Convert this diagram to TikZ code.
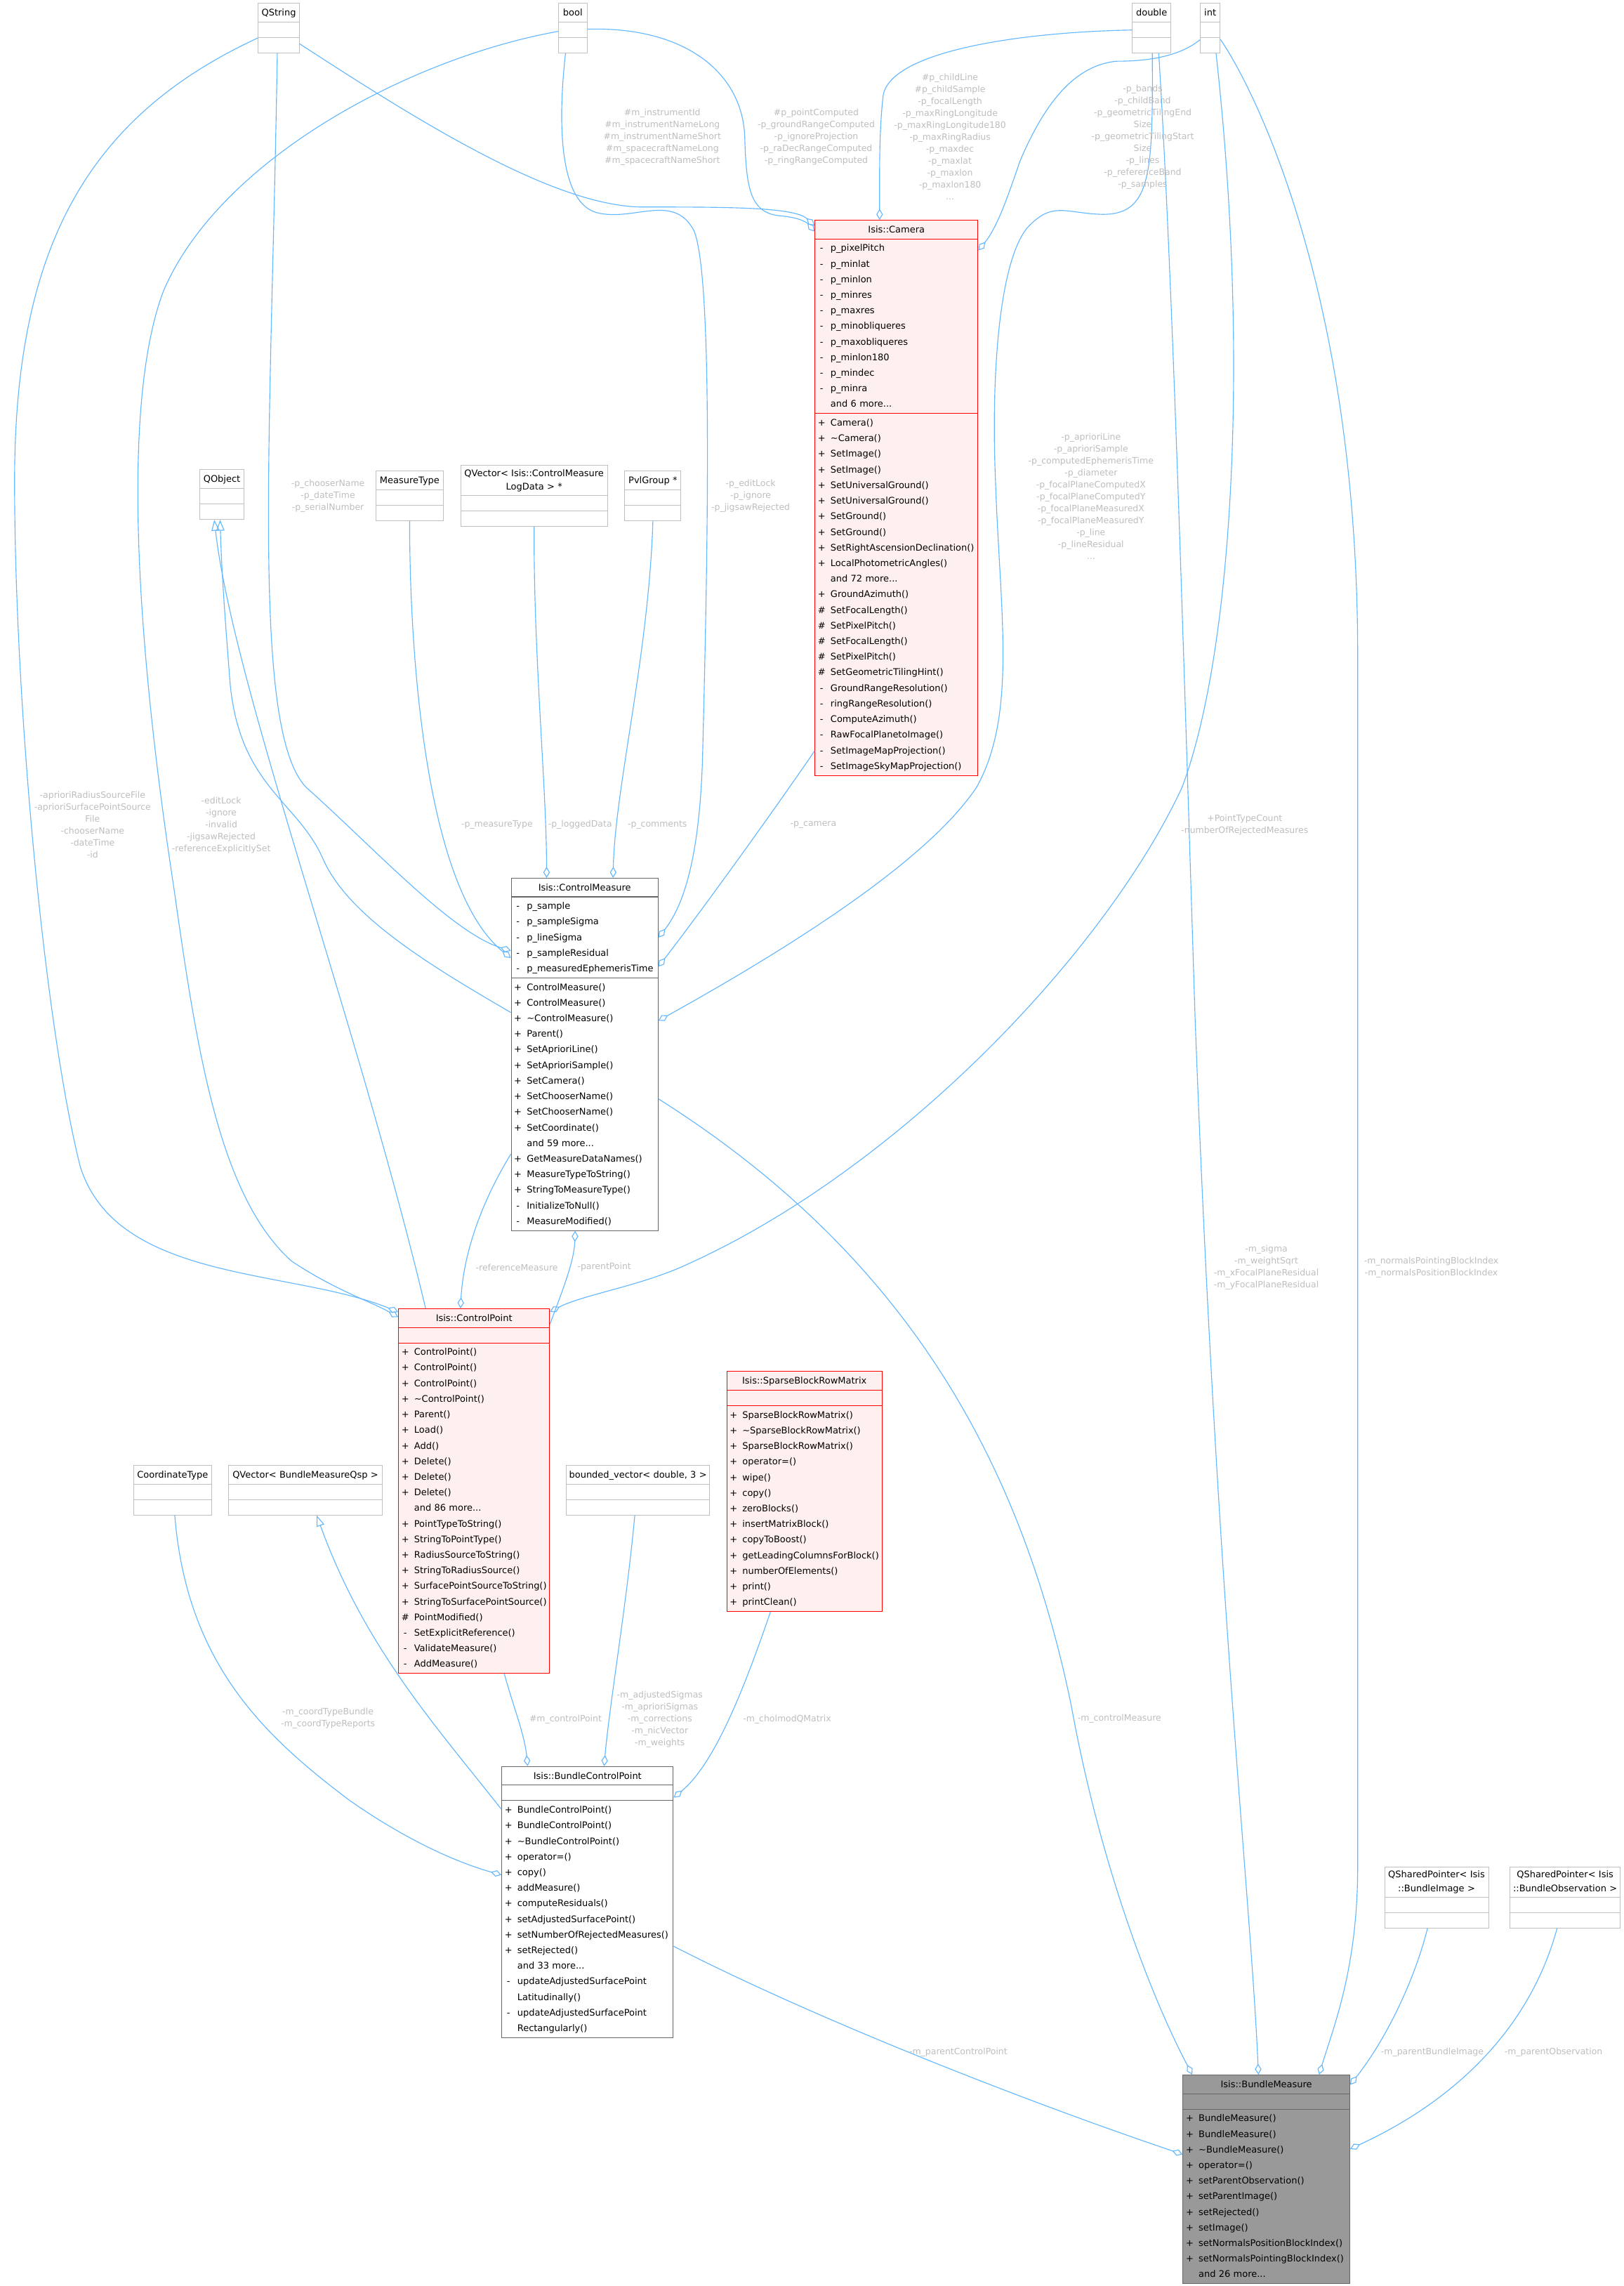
\documentclass[tikz,border=0pt]{standalone}
\usepackage{fontspec}
\setmainfont{DejaVu Sans}
\usepackage{array}
\usetikzlibrary{arrows.meta,shapes.multipart,calc}

\definecolor{edge}{HTML}{63B8FF}
\definecolor{rolegray}{HTML}{BEBEBE}
\definecolor{plainline}{HTML}{BFBFBF}
\definecolor{docline}{HTML}{666666}
\definecolor{redline}{HTML}{FF0000}
\definecolor{redfill}{HTML}{FFF0F0}
\definecolor{focusfill}{HTML}{999999}

\newcommand{\boxfont}{\fontsize{6.25pt}{10.7pt}\selectfont}
\newcommand{\rolefont}{\fontsize{6pt}{8.2pt}\selectfont}
\newcommand{\clsname}[1]{\makebox[\linewidth]{\strut#1}}
\newcommand{\clsnametwo}[2]{\makebox[\linewidth]{\renewcommand{\arraystretch}{.87}%
  \begin{tabular}[t]{@{}c@{}}#1\\#2\end{tabular}}}
\newcommand{\nomembers}{\rule{0pt}{8.5pt}}
\newcommand{\members}[1]{\begin{tabular}[t]{@{}w{c}{5.2pt}@{\hspace{3.5pt}}l@{}}#1\end{tabular}}

\tikzset{
  cls/.style={rectangle split, rectangle split parts=3, anchor=north west,
    inner xsep=2pt, inner ysep=.8pt, font=\boxfont, line width=.5pt},
  plaincls/.style={cls, draw=plainline, fill=white},
  doccls/.style={cls, draw=docline, fill=white},
  redcls/.style={cls, draw=redline, fill=redfill},
  focuscls/.style={cls, draw=docline, fill=focusfill},
  has/.style={draw=edge, line width=.55pt, -{Diamond[open,length=7.5pt,width=4.5pt]}},
  isa/.style={draw=edge, line width=.55pt, -{Triangle[open,length=7.5pt,width=5.5pt]}},
  role/.style={font=\rolefont, text=rolegray, align=center, inner sep=0pt}
}

\begin{document}
\begin{tikzpicture}[x=1pt,y=-1pt]
\path[use as bounding box, fill=white] (0,0) rectangle (1114,1568);

% ---------- plain value types along the top
\node[plaincls, text width=24pt] (qstring) at (177,2)
  {\clsname{QString}\nodepart{two}\nomembers\nodepart{three}\nomembers};
\node[plaincls, text width=15.5pt] (boolt) at (383,2)
  {\clsname{bool}\nodepart{two}\nomembers\nodepart{three}\nomembers};
\node[plaincls, text width=22.5pt] (doublet) at (776.6,2)
  {\clsname{double}\nodepart{two}\nomembers\nodepart{three}\nomembers};
\node[plaincls, text width=9.5pt] (intt) at (823.3,2)
  {\clsname{int}\nodepart{two}\nomembers\nodepart{three}\nomembers};

% ---------- Isis::Camera
\node[redcls, text width=107.8pt] (camera) at (558.9,150.8)
  {\clsname{Isis::Camera}
   \nodepart{two}\members{- & p\_pixelPitch\\ - & p\_minlat\\ - & p\_minlon\\ - & p\_minres\\
     - & p\_maxres\\ - & p\_minobliqueres\\ - & p\_maxobliqueres\\ - & p\_minlon180\\
     - & p\_mindec\\ - & p\_minra\\ & and 6 more...}
   \nodepart{three}\members{+ & Camera()\\ + & \textasciitilde Camera()\\ + & SetImage()\\
     + & SetImage()\\ + & SetUniversalGround()\\ + & SetUniversalGround()\\ + & SetGround()\\
     + & SetGround()\\ + & SetRightAscensionDeclination()\\ + & LocalPhotometricAngles()\\
     & and 72 more...\\ + & GroundAzimuth()\\ \# & SetFocalLength()\\ \# & SetPixelPitch()\\
     \# & SetFocalLength()\\ \# & SetPixelPitch()\\ \# & SetGeometricTilingHint()\\
     - & GroundRangeResolution()\\ - & ringRangeResolution()\\ - & ComputeAzimuth()\\
     - & RawFocalPlanetoImage()\\ - & SetImageMapProjection()\\ - & SetImageSkyMapProjection()}};

% ---------- middle row of small types
\node[plaincls, text width=26pt] (qobject) at (137,322)
  {\clsname{QObject}\nodepart{two}\nomembers\nodepart{three}\nomembers};
\node[plaincls, text width=42.4pt] (measuretype) at (257.6,322.8)
  {\clsname{MeasureType}\nodepart{two}\nomembers\nodepart{three}\nomembers};
\node[plaincls, text width=96.8pt] (logdata) at (315.8,318.8)
  {\clsnametwo{QVector< Isis::ControlMeasure}{LogData > *}\nodepart{two}\nomembers\nodepart{three}\nomembers};
\node[plaincls, text width=34.6pt] (pvlgroup) at (428.4,322.8)
  {\clsname{PvlGroup *}\nodepart{two}\nomembers\nodepart{three}\nomembers};

% ---------- Isis::ControlMeasure
\node[doccls, text width=96.7pt] (cmeasure) at (350.5,602.1)
  {\clsname{Isis::ControlMeasure}
   \nodepart{two}\members{- & p\_sample\\ - & p\_sampleSigma\\ - & p\_lineSigma\\
     - & p\_sampleResidual\\ - & p\_measuredEphemerisTime}
   \nodepart{three}\members{+ & ControlMeasure()\\ + & ControlMeasure()\\
     + & \textasciitilde ControlMeasure()\\ + & Parent()\\ + & SetAprioriLine()\\
     + & SetAprioriSample()\\ + & SetCamera()\\ + & SetChooserName()\\ + & SetChooserName()\\
     + & SetCoordinate()\\ & and 59 more...\\ + & GetMeasureDataNames()\\
     + & MeasureTypeToString()\\ + & StringToMeasureType()\\ - & InitializeToNull()\\
     - & MeasureModified()}};

% ---------- Isis::ControlPoint
\node[redcls, text width=99.6pt] (cpoint) at (273.2,897.4)
  {\clsname{Isis::ControlPoint}
   \nodepart{two}\nomembers
   \nodepart{three}\members{+ & ControlPoint()\\ + & ControlPoint()\\ + & ControlPoint()\\
     + & \textasciitilde ControlPoint()\\ + & Parent()\\ + & Load()\\ + & Add()\\
     + & Delete()\\ + & Delete()\\ + & Delete()\\ & and 86 more...\\
     + & PointTypeToString()\\ + & StringToPointType()\\ + & RadiusSourceToString()\\
     + & StringToRadiusSource()\\ + & SurfacePointSourceToString()\\
     + & StringToSurfacePointSource()\\ \# & PointModified()\\ - & SetExplicitReference()\\
     - & ValidateMeasure()\\ - & AddMeasure()}};

% ---------- Isis::SparseBlockRowMatrix
\node[redcls, text width=102.5pt] (sbrm) at (498.4,940.5)
  {\clsname{Isis::SparseBlockRowMatrix}
   \nodepart{two}\nomembers
   \nodepart{three}\members{+ & SparseBlockRowMatrix()\\ + & \textasciitilde SparseBlockRowMatrix()\\
     + & SparseBlockRowMatrix()\\ + & operator=()\\ + & wipe()\\ + & copy()\\ + & zeroBlocks()\\
     + & insertMatrixBlock()\\ + & copyToBoost()\\ + & getLeadingColumnsForBlock()\\
     + & numberOfElements()\\ + & print()\\ + & printClean()}};

% ---------- lower row of small types
\node[plaincls, text width=49.8pt] (coordtype) at (91.3,1004.9)
  {\clsname{CoordinateType}\nodepart{two}\nomembers\nodepart{three}\nomembers};
\node[plaincls, text width=101.2pt] (bmqsp) at (156.7,1004.9)
  {\clsname{QVector< BundleMeasureQsp >}\nodepart{two}\nomembers\nodepart{three}\nomembers};
\node[plaincls, text width=94.5pt] (bvec) at (388.2,1005)
  {\clsname{bounded\_vector< double, 3 >}\nodepart{two}\nomembers\nodepart{three}\nomembers};

% ---------- Isis::BundleControlPoint
\node[doccls, text width=113.7pt] (bcp) at (344,1211.4)
  {\clsname{Isis::BundleControlPoint}
   \nodepart{two}\nomembers
   \nodepart{three}\members{+ & BundleControlPoint()\\ + & BundleControlPoint()\\
     + & \textasciitilde BundleControlPoint()\\ + & operator=()\\ + & copy()\\ + & addMeasure()\\
     + & computeResiduals()\\ + & setAdjustedSurfacePoint()\\ + & setNumberOfRejectedMeasures()\\
     + & setRejected()\\ & and 33 more...\\ - & updateAdjustedSurfacePoint\\ & Latitudinally()\\
     - & updateAdjustedSurfacePoint\\ & Rectangularly()}};

% ---------- shared pointers
\node[plaincls, text width=67.3pt] (qspimage) at (949.7,1280.2)
  {\clsnametwo{QSharedPointer< Isis}{::BundleImage >}\nodepart{two}\nomembers\nodepart{three}\nomembers};
\node[plaincls, text width=71.7pt] (qspobs) at (1035.7,1280.2)
  {\clsnametwo{QSharedPointer< Isis}{::BundleObservation >}\nodepart{two}\nomembers\nodepart{three}\nomembers};

% ---------- Isis::BundleMeasure (the documented class)
\node[focuscls, text width=110.4pt] (bmeasure) at (811.4,1423)
  {\clsname{Isis::BundleMeasure}
   \nodepart{two}\nomembers
   \nodepart{three}\members{+ & BundleMeasure()\\ + & BundleMeasure()\\
     + & \textasciitilde BundleMeasure()\\ + & operator=()\\ + & setParentObservation()\\
     + & setParentImage()\\ + & setRejected()\\ + & setImage()\\
     + & setNormalsPositionBlockIndex()\\ + & setNormalsPointingBlockIndex()\\ & and 26 more...}};

% ---------- members of Camera
\draw[has] ($(qstring.north east)+(0,28)$) .. controls (290,85) and (380,141) .. (440,142)
  .. controls (500,142) and (545,142) .. ($(camera.north west)+(0,4)$);
\draw[has] ($(boolt.north east)+(0,18)$) .. controls (470,18) and (510,50) .. (511,95)
  .. controls (512,130) and (515,146) .. (535,148) .. controls (547,149) and (553,152) .. ($(camera.north west)+(0,8)$);
\draw[has] ($(doublet.north west)+(0,18.6)$) .. controls (700,22) and (612,35) .. (606,65)
  .. controls (603,90) and (603.5,120) .. ($(camera.north west)+(44.6,0)$);
\draw[has] ($(intt.north west)+(0,25.3)$) .. controls (810,38) and (790,42) .. (766,42)
  .. controls (735,45) and (715,75) .. (700,110) .. controls (693,130) and (685,155) .. ($(camera.north east)+(0,21)$);

% ---------- members of ControlMeasure
\draw[has] ($(camera.south west)+(0,-17)$) .. controls (535,550) and (485,620) .. ($(cmeasure.north east)+(0,61)$);
\draw[has] ($(boolt.south west)+(5,0)$) .. controls (382,90) and (385,140) .. (410,146)
  .. controls (435,152) and (462,132) .. (476,158) .. controls (490,190) and (485,400) .. (482,520)
  .. controls (480,585) and (470,620) .. ($(cmeasure.north east)+(0,41)$);
\draw[has] ($(qstring.south)+(-1,0)$) .. controls (186,300) and (172,500) .. (210,540)
  .. controls (255,580) and (310,640) .. ($(cmeasure.north west)+(0,50)$);
\draw[has] (measuretype.south) .. controls (281,450) and (292,610) .. ($(cmeasure.north west)+(0,55)$);
\draw[has] (logdata.south) .. controls (366,450) and (375,540) .. ($(cmeasure.north west)+(24.5,0)$);
\draw[has] (pvlgroup.south) .. controls (445,450) and (422,540) .. ($(cmeasure.north west)+(70.1,0)$);
\draw[has] ($(doublet.south west)+(14,0)$) .. controls (791,120) and (790,148) .. (755,147)
  .. controls (730,146) and (722,138) .. (705,156) .. controls (685,180) and (680,260) .. (683,330)
  .. controls (686,420) and (698,490) .. (670,540) .. controls (640,585) and (560,640) .. ($(cmeasure.north east)+(0,98)$);

% ---------- members of ControlPoint
\draw[has] ($(qstring.north west)+(0,24)$) .. controls (60,80) and (10,170) .. (10,330)
  .. controls (10,480) and (30,700) .. (55,800) .. controls (80,880) and (200,870) .. ($(cpoint.north west)+(0,2.5)$);
\draw[has] ($(boolt.north west)+(0,19.5)$) .. controls (280,40) and (150,110) .. (112,200)
  .. controls (82,280) and (95,450) .. (119,607) .. controls (135,720) and (150,820) .. (200,865)
  .. controls (230,885) and (255,893) .. ($(cpoint.north west)+(0,6)$);
\draw[has] ($(intt.south west)+(11,0)$) .. controls (858,250) and (845,450) .. (811,540)
  .. controls (760,650) and (620,800) .. (472,867) .. controls (440,882) and (400,888) .. ($(cpoint.north east)+(0,2.4)$);
\draw[has] ($(cmeasure.north west)+(0,189.5)$) .. controls (330,825) and (318,860) .. ($(cpoint.north west)+(42.7,0)$);
\draw[has] ($(cpoint.north east)+(0,10.9)$) .. controls (386,885) and (394,865) .. ($(cmeasure.south west)+(44.1,0)$);

% ---------- QObject bases
\draw[isa] ($(cmeasure.north west)+(0,92.4)$) .. controls (300,665) and (240,630) .. (222,590)
  .. controls (205,550) and (165,540) .. (158,470) .. controls (154,420) and (152,390) .. ($(qobject.south west)+(14,0)$);
\draw[isa] ($(cpoint.north west)+(18.8,0)$) .. controls (245,700) and (160,470) .. ($(qobject.south west)+(10,0)$);

% ---------- members of BundleControlPoint
\draw[has] ($(cpoint.south west)+(72.8,0)$) .. controls (352,1170) and (360,1190) .. ($(bcp.north west)+(18,0)$);
\draw[has] ($(bvec.south west)+(47.3,0)$) .. controls (430,1100) and (418,1170) .. ($(bcp.north west)+(70.5,0)$);
\draw[has] ($(sbrm.south west)+(30.2,0)$) .. controls (510,1160) and (490,1210) .. ($(bcp.north east)+(0,21.6)$);
\draw[has] ($(coordtype.south west)+(28.6,0)$) .. controls (128,1140) and (180,1190) .. (240,1235)
  .. controls (280,1263) and (315,1278) .. ($(bcp.north west)+(0,74.6)$);
\draw[isa] ($(bcp.north west)+(0,29.6)$) .. controls (300,1185) and (250,1130) .. ($(bmqsp.south west)+(60.6,0)$);

% ---------- members of BundleMeasure
\draw[has] ($(cmeasure.north east)+(0,151.6)$) .. controls (620,860) and (700,1000) .. (735,1170)
  .. controls (755,1280) and (790,1370) .. ($(bmeasure.north west)+(6.6,0)$);
\draw[has] ($(doublet.south west)+(18.4,0)$) .. controls (805,200) and (812,450) .. (820,700)
  .. controls (835,1100) and (858,1300) .. ($(bmeasure.north west)+(52,0)$);
\draw[has] ($(intt.north east)+(0,25)$) .. controls (860,60) and (931.5,200) .. (931.5,450) -- (931.5,1280)
  .. controls (931.5,1350) and (915,1390) .. ($(bmeasure.north west)+(93.6,0)$);
\draw[has] ($(bcp.north east)+(0,123.6)$) .. controls (560,1385) and (700,1440) .. ($(bmeasure.north west)+(0,54.7)$);
\draw[has] ($(qspimage.south west)+(29.7,0)$) .. controls (970,1360) and (950,1400) .. ($(bmeasure.north east)+(0,7)$);
\draw[has] ($(qspobs.south west)+(32.6,0)$) .. controls (1050,1390) and (1000,1440) .. ($(bmeasure.north east)+(0,51)$);

% ---------- role names
\node[role] (r-instr) at (454.4,94) {\#m\_instrumentId\\\#m\_instrumentNameLong\\\#m\_instrumentNameShort\\\#m\_spacecraftNameLong\\\#m\_spacecraftNameShort};
\node[role] (r-flags) at (560,94) {\#p\_pointComputed\\-p\_groundRangeComputed\\-p\_ignoreProjection\\-p\_raDecRangeComputed\\-p\_ringRangeComputed};
\node[role] (r-reals) at (651.8,94) {\#p\_childLine\\\#p\_childSample\\-p\_focalLength\\-p\_maxRingLongitude\\-p\_maxRingLongitude180\\-p\_maxRingRadius\\-p\_maxdec\\-p\_maxlat\\-p\_maxlon\\-p\_maxlon180\\...};
\node[role] (r-ints) at (784,94) {-p\_bands\\-p\_childBand\\-p\_geometricTilingEnd\\Size\\-p\_geometricTilingStart\\Size\\-p\_lines\\-p\_referenceBand\\-p\_samples};
\node[role] (r-chooser) at (225,340.2) {-p\_chooserName\\-p\_dateTime\\-p\_serialNumber};
\node[role] (r-lock) at (515,340.2) {-p\_editLock\\-p\_ignore\\-p\_jigsawRejected};
\node[role] (r-apriori) at (748.5,340.3) {-p\_aprioriLine\\-p\_aprioriSample\\-p\_computedEphemerisTime\\-p\_diameter\\-p\_focalPlaneComputedX\\-p\_focalPlaneComputedY\\-p\_focalPlaneMeasuredX\\-p\_focalPlaneMeasuredY\\-p\_line\\-p\_lineResidual\\...};
\node[role] (r-source) at (63.5,565.9) {-aprioriRadiusSourceFile\\-aprioriSurfacePointSource\\File\\-chooserName\\-dateTime\\-id};
\node[role] (r-edit) at (151.8,566) {-editLock\\-ignore\\-invalid\\-jigsawRejected\\-referenceExplicitlySet};
\node[role] (r-mtype) at (341,565.8) {-p\_measureType};
\node[role] (r-logged) at (398,565.8) {-p\_loggedData};
\node[role] (r-comments) at (451,565.8) {-p\_comments};
\node[role] (r-camera) at (558,565.8) {-p\_camera};
\node[role] (r-count) at (854,565.9) {+PointTypeCount\\-numberOfRejectedMeasures};
\node[role] (r-sigma) at (868.8,869.5) {-m\_sigma\\-m\_weightSqrt\\-m\_xFocalPlaneResidual\\-m\_yFocalPlaneResidual};
\node[role] (r-normals) at (982,869.5) {-m\_normalsPointingBlockIndex\\-m\_normalsPositionBlockIndex};
\node[role] (r-ref) at (354.6,869.2) {-referenceMeasure};
\node[role] (r-parent) at (414.6,869.2) {-parentPoint};
\node[role] (r-cm) at (768,1179) {-m\_controlMeasure};
\node[role] (r-cp) at (388,1179.5) {\#m\_controlPoint};
\node[role] (r-vec) at (452.7,1179.5) {-m\_adjustedSigmas\\-m\_aprioriSigmas\\-m\_corrections\\-m\_nicVector\\-m\_weights};
\node[role] (r-chol) at (540,1179.5) {-m\_cholmodQMatrix};
\node[role] (r-coord) at (225,1178.6) {-m\_coordTypeBundle\\-m\_coordTypeReports};
\node[role] (r-pcp) at (657.5,1407.6) {-m\_parentControlPoint};
\node[role] (r-pbi) at (982.7,1407.6) {-m\_parentBundleImage};
\node[role] (r-pobs) at (1065.8,1407.6) {-m\_parentObservation};
\end{tikzpicture}
\end{document}
